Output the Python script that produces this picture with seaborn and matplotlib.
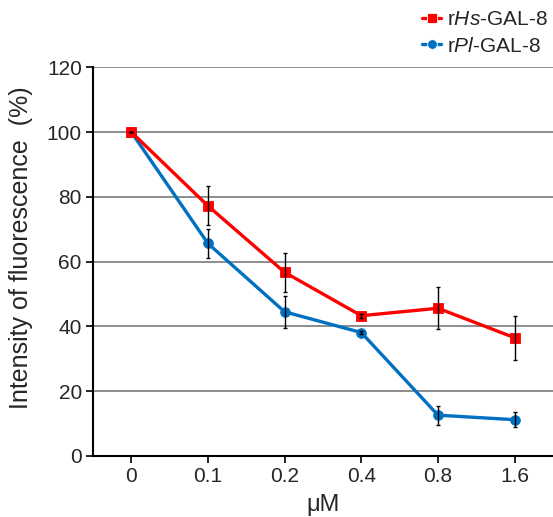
import numpy as np
import pandas as pd
import matplotlib
matplotlib.use("Agg")
import matplotlib.pyplot as plt
import seaborn as sns

# chart values
doses = ["0", "0.1", "0.2", "0.4", "0.8", "1.6"]
hs_mean = [100, 77.2, 56.7, 43.3, 45.6, 36.5]
hs_err = [0, 6.0, 6.0, 0.6, 6.5, 6.8]
pl_mean = [100, 65.6, 44.5, 38.1, 12.6, 11.2]
pl_err = [0, 4.6, 5.0, 0.6, 2.9, 2.4]
series_names = [r"r$\mathit{Hs}$-GAL-8", r"r$\mathit{Pl}$-GAL-8"]
colors = ["#ff0000", "#0070c0"]

sns.set_style("white")
plt.rcParams["font.family"] = ["Liberation Sans", "DejaVu Sans"]
plt.rcParams["mathtext.fontset"] = "custom"
plt.rcParams["mathtext.rm"] = "Liberation Sans"
plt.rcParams["mathtext.it"] = "Liberation Sans:italic"

pos = np.arange(len(doses))
df = pd.DataFrame({
    "pos": np.concatenate([pos, pos]),
    "value": hs_mean + pl_mean,
    "series": [series_names[0]] * len(doses) + [series_names[1]] * len(doses),
})

fig = plt.figure(figsize=(5.53, 5.17), dpi=100)
ax = fig.add_axes([0.168, 0.118, 0.832, 0.752])

sns.lineplot(data=df, x="pos", y="value", hue="series", style="series",
             markers={series_names[0]: "s", series_names[1]: "o"}, dashes=False,
             palette=dict(zip(series_names, colors)), linewidth=2.4,
             markersize=7, markeredgewidth=0.6, ax=ax, legend=True)

# red on top of blue, like the reference
for line, c, z in zip(ax.lines[:2], colors, [3.5, 3]):
    line.set_markeredgecolor(c)
    line.set_zorder(z)

for m, e in [(hs_mean, hs_err), (pl_mean, pl_err)]:
    ax.errorbar(pos, m, yerr=e, fmt="none", ecolor="black", elinewidth=1.0,
                capsize=1.5, capthick=1.0, zorder=4)

ax.set_xlim(-0.5, 5.5)
ax.set_ylim(0, 120)
ax.set_yticks(range(0, 121, 20))
ax.set_xticks(pos)
ax.set_xticklabels(doses)
ax.tick_params(axis="both", labelsize=15, direction="out", length=5, width=1.2,
               bottom=True, left=True, color="black", pad=3)
ax.yaxis.grid(True, color="#8c8c8c", linewidth=1.4)
ax.xaxis.grid(False)
ax.set_axisbelow(True)
for s in ["top", "right"]:
    ax.spines[s].set_visible(False)
for s in ["left", "bottom"]:
    ax.spines[s].set_color("black")
    ax.spines[s].set_linewidth(1.5)

ax.set_xlabel("μM", fontsize=17, labelpad=6)
ax.set_ylabel("Intensity of fluorescence  (%)", fontsize=18, labelpad=10)
ax.yaxis.label.set_y(0.535)

handles, labels = ax.get_legend_handles_labels()
ax.get_legend().remove()
fig.legend(handles, labels, loc="upper right", bbox_to_anchor=(1.01, 1.0),
           frameon=False, fontsize=15, handlelength=0.9, handletextpad=0.3,
           labelspacing=0.35, borderaxespad=0.1)

fig.savefig("out.png", dpi=100)
